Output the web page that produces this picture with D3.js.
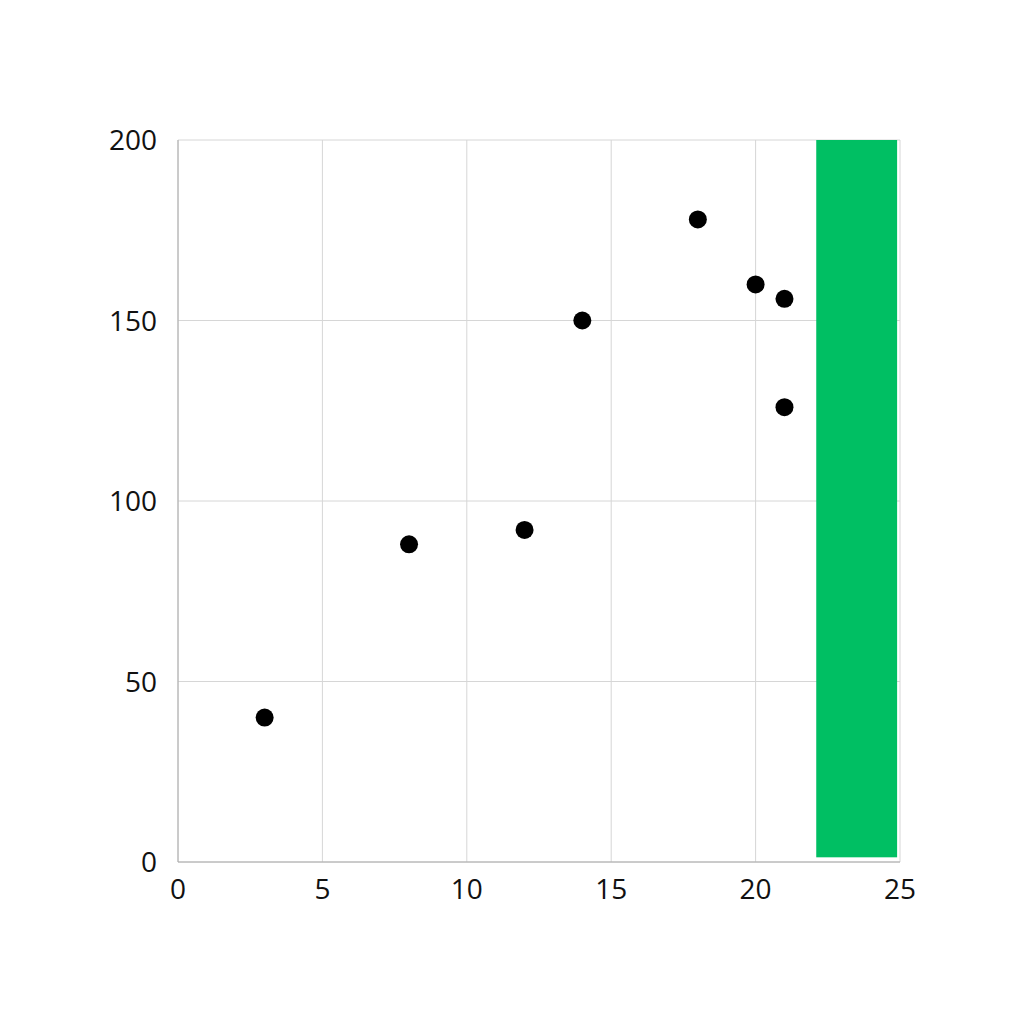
<!DOCTYPE html>
<html><head><meta charset="utf-8">
<script src="https://cdn.jsdelivr.net/npm/d3@7"></script>
<style>body{margin:0;background:#fff}</style>
</head><body>
<svg id="c" width="1024" height="1024"></svg>
<script>
const xs = [3, 8, 12, 14, 18, 20, 21, 21];
const ys = [40, 88, 92, 150, 178, 160, 156, 126];
const xTicks = [0, 5, 10, 15, 20, 25];
const yTicks = [0, 50, 100, 150, 200];
const bandX = [22.1, 24.9];
const bandY = [1.3, 200];

const svg = d3.select("#c");
const L = 178, R = 900, T = 140, B = 862;
const x = d3.scaleLinear().domain([0, 25]).range([L, R]);
const y = d3.scaleLinear().domain([0, 200]).range([B, T]);

const g = svg.append("g");
g.selectAll(".gx").data(xTicks).join("line")
  .attr("x1", d => x(d)).attr("x2", d => x(d)).attr("y1", T).attr("y2", B)
  .attr("stroke", "#d6d6d6").attr("stroke-width", 1);
g.selectAll(".gy").data(yTicks).join("line")
  .attr("y1", d => y(d)).attr("y2", d => y(d)).attr("x1", L).attr("x2", R)
  .attr("stroke", "#d6d6d6").attr("stroke-width", 1);

svg.append("rect")
  .attr("x", x(bandX[0])).attr("width", x(bandX[1]) - x(bandX[0]))
  .attr("y", y(bandY[1])).attr("height", y(bandY[0]) - y(bandY[1]))
  .attr("fill", "#00bf63");

svg.append("line").attr("x1", L).attr("x2", L).attr("y1", T).attr("y2", B).attr("stroke", "#aaa");
svg.append("line").attr("x1", L).attr("x2", R).attr("y1", B).attr("y2", B).attr("stroke", "#aaa");

svg.selectAll(".pt").data(xs.map((v, i) => [v, ys[i]])).join("circle")
  .attr("cx", d => x(d[0])).attr("cy", d => y(d[1])).attr("r", 9).attr("fill", "#000");

const font = "'Open Sans', sans-serif";
svg.selectAll(".xl").data(xTicks).join("text")
  .attr("x", d => x(d)).attr("y", 899).attr("text-anchor", "middle")
  .attr("font-family", font).attr("font-size", 28).attr("fill", "#111").text(d => d);
svg.selectAll(".yl").data(yTicks).join("text")
  .attr("x", 157).attr("y", d => y(d) + 10).attr("text-anchor", "end")
  .attr("font-family", font).attr("font-size", 28).attr("fill", "#111").text(d => d);
</script>
</body></html>
